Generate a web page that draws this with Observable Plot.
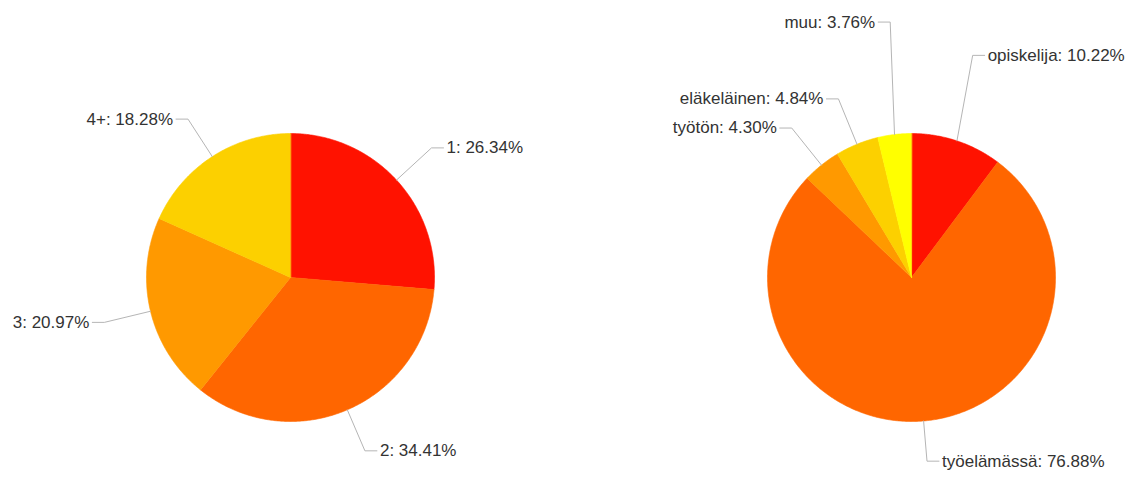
<!DOCTYPE html>
<html>
<head>
<meta charset="utf-8">
<script src="https://cdn.jsdelivr.net/npm/d3@7"></script>
<script src="https://cdn.jsdelivr.net/npm/@observablehq/plot@0.6"></script>
<style>
  html, body { margin: 0; padding: 0; background: #fff; }
  #row { display: flex; flex-direction: row; width: 1133px; height: 477px; }
  svg { overflow: visible; }
</style>
</head>
<body>
<div id="row"></div>
<script>
// ---- data ----
const householdLabels = ["1", "2", "3", "4+"];
const householdValues = [26.34, 34.41, 20.97, 18.28];

const statusLabels = ["opiskelija", "työelämässä", "työtön", "eläkeläinen", "muu"];
const statusValues = [10.22, 76.88, 4.30, 4.84, 3.76];

// ---- styles / layout ----
const householdColors = ["#ff1200", "#ff6600", "#ff9900", "#fcd000"];
const statusColors = ["#ff1200", "#ff6600", "#ff9900", "#fcd000", "#ffff00"];
// leader elbow distance beyond the rim (fraction of radius) and angular nudge (degrees)
const householdLeader = [0.33, 0.31, 0.33, 0.31];
const householdTurn = [0, 0, 0, 0];
const statusLeader = [0.6, 0.28, 0.33, 0.34, 0.78];
const statusTurn = [-3, 0, 0, 0, 2];

function pieChart({labels, values, colors, leader, turn, width, marginLeft, marginRight}) {
  const total = d3.sum(values);
  let acc = 0;
  const slices = labels.map((label, i) => {
    const a0 = acc / total * 2 * Math.PI;
    acc += values[i];
    const a1 = acc / total * 2 * Math.PI;
    return {label, value: values[i], a0, a1, mid: (a0 + a1) / 2, leader: leader[i], turn: turn[i] * Math.PI / 180};
  });
  const poly = slices.flatMap(s => {
    const n = Math.max(2, Math.ceil((s.a1 - s.a0) / (Math.PI / 360)));
    const pts = [{x: 0, y: 0, label: s.label}];
    for (let k = 0; k <= n; k++) {
      const a = s.a0 + (s.a1 - s.a0) * k / n;
      pts.push({x: Math.sin(a), y: Math.cos(a), label: s.label});
    }
    return pts;
  });
  const horiz = 12 / 144;
  const lines = [];
  const texts = [];
  slices.forEach(s => {
    const sx = Math.sin(s.mid), sy = Math.cos(s.mid);
    const f = 1 + s.leader;
    const side = sx >= 0 ? 1 : -1;
    const ea = s.mid + s.turn;
    const ex = Math.sin(ea) * f, ey = Math.cos(ea) * f;
    lines.push({x: sx, y: sy, label: s.label});
    lines.push({x: ex, y: ey, label: s.label});
    lines.push({x: ex + side * horiz, y: ey, label: s.label});
    texts.push({x: ex + side * horiz, y: ey, side, text: `${s.label}: ${s.value.toFixed(2)}%`});
  });
  return Plot.plot({
    width, height: 477,
    marginLeft, marginRight, marginTop: 133, marginBottom: 56,
    x: {domain: [-1, 1], axis: null},
    y: {domain: [-1, 1], axis: null},
    color: {domain: labels, range: colors},
    style: {fontFamily: "'Liberation Sans', Arial, sans-serif", fontSize: "17px", color: "#333", background: "#fff", overflow: "visible"},
    marks: [
      Plot.line(poly, {x: "x", y: "y", z: "label", fill: "label", stroke: "label", strokeWidth: 0.6, curve: "linear-closed"}),
      Plot.line(lines, {x: "x", y: "y", z: "label", stroke: "#b5b5b5", strokeWidth: 1}),
      Plot.text(texts.filter(d => d.side > 0), {x: "x", y: "y", text: "text", textAnchor: "start", dx: 3, fill: "#333", fontSize: 17}),
      Plot.text(texts.filter(d => d.side < 0), {x: "x", y: "y", text: "text", textAnchor: "end", dx: -3, fill: "#333", fontSize: 17})
    ]
  });
}

const row = document.getElementById("row");
row.append(pieChart({labels: householdLabels, values: householdValues, colors: householdColors, leader: householdLeader, turn: householdTurn, width: 566, marginLeft: 146, marginRight: 132}));
row.append(pieChart({labels: statusLabels, values: statusValues, colors: statusColors, leader: statusLeader, turn: statusTurn, width: 567, marginLeft: 201, marginRight: 78}));
</script>
</body>
</html>
